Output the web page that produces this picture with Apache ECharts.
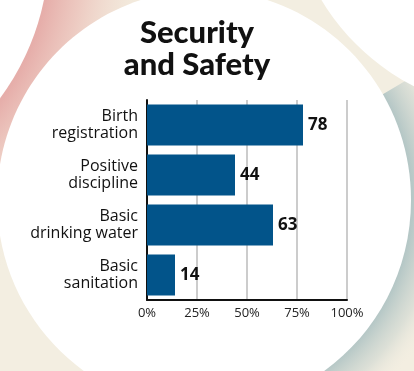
<!DOCTYPE html>
<html>
<head>
<meta charset="utf-8">
<script src="https://cdn.jsdelivr.net/npm/echarts@6/dist/echarts.min.js"></script>
<style>
html,body{margin:0;padding:0;background:#f3eee1;}
#chart{width:414px;height:371px;}
</style>
</head>
<body>
<div id="chart"></div>
<script>
var titleText = "Security\nand Safety";
var categories = ["Birth\nregistration", "Positive\ndiscipline", "Basic\ndrinking water", "Basic\nsanitation"];
var values = [78, 44, 63, 14];
var xTicks = [0, 25, 50, 75, 100];

var chart = echarts.init(document.getElementById('chart'));
var font = "'Open Sans', 'Noto Sans', sans-serif";
var titleFont = "Lato, 'Open Sans', sans-serif";

var option = {
  backgroundColor: '#f3eee1',
  animation: false,
  title: {
    text: titleText,
    left: 192,
    top: 12,
    textAlign: 'center',
    textStyle: {
      fontFamily: titleFont,
      fontWeight: 900,
      fontSize: 31,
      lineHeight: 32,
      color: '#111111'
    }
  },
  graphic: [
    { type: 'circle', z: -100, silent: true,
      shape: { cx: -200, cy: -50, r: 380 },
      style: { fill: { type: 'radial', x: -200, y: -50, r: 380, global: true,
        colorStops: [
          { offset: 0, color: 'rgba(230,174,170,1)' },
          { offset: 0.66, color: 'rgba(230,174,170,1)' },
          { offset: 0.75, color: 'rgba(236,196,188,0.85)' },
          { offset: 0.88, color: 'rgba(242,228,214,0.5)' },
          { offset: 1, color: 'rgba(243,238,225,0)' }
        ] } } },
    { type: 'circle', z: -99, silent: true,
      shape: { cx: -200, cy: -50, r: 249 },
      style: { fill: '#ffffff' } },
    { type: 'sector', z: -98, silent: true,
      shape: { cx: 204, cy: 200, r: 260, r0: 150, startAngle: -Math.PI * 0.17, endAngle: Math.PI * 0.42 },
      style: { fill: { type: 'radial', x: 204, y: 200, r: 260, global: true,
        colorStops: [
          { offset: 0, color: 'rgba(181,199,198,1)' },
          { offset: 0.8, color: 'rgba(181,199,198,1)' },
          { offset: 0.9, color: 'rgba(205,214,208,0.6)' },
          { offset: 1, color: 'rgba(243,238,225,0)' }
        ] } } },
    { type: 'circle', z: -97, silent: true,
      shape: { cx: 520, cy: -120, r: 232 },
      style: { fill: '#ffffff' } },
    { type: 'ellipse', z: -96, silent: true,
      shape: { cx: 204, cy: 200, rx: 207, ry: 210 },
      style: { fill: '#ffffff' } }
  ],
  grid: { left: 147, right: 67, top: 100, bottom: 71, containLabel: false },
  xAxis: {
    type: 'value',
    min: 0, max: 100, interval: 25,
    axisLine: { show: true, lineStyle: { color: '#111111', width: 2 } },
    axisTick: { show: false },
    splitLine: { show: true, lineStyle: { color: '#cccccc', width: 2 } },
    axisLabel: {
      formatter: function (v) { return xTicks.indexOf(v) >= 0 ? v + '%' : ''; },
      fontFamily: font, fontSize: 13, color: '#222222', margin: 7
    }
  },
  yAxis: {
    type: 'category',
    data: categories,
    inverse: true,
    axisLine: { show: true, lineStyle: { color: '#111111', width: 2 } },
    axisTick: { show: false },
    axisLabel: {
      formatter: function (v) {
        return v.split('\n').map(function (s) { return '{a|' + s + '}'; }).join('\n');
      },
      rich: {
        a: { fontFamily: font, fontSize: 16, lineHeight: 17, color: '#111111', align: 'right' }
      },
      margin: 9, align: 'right'
    }
  },
  series: [{
    type: 'bar',
    data: values,
    barCategoryGap: '18%',
    itemStyle: { color: '#02548a' },
    label: {
      show: true, position: 'right', distance: 5,
      fontFamily: font, fontWeight: 'bold', fontSize: 17, color: '#111111'
    }
  }]
};
chart.setOption(option);
</script>
</body>
</html>
